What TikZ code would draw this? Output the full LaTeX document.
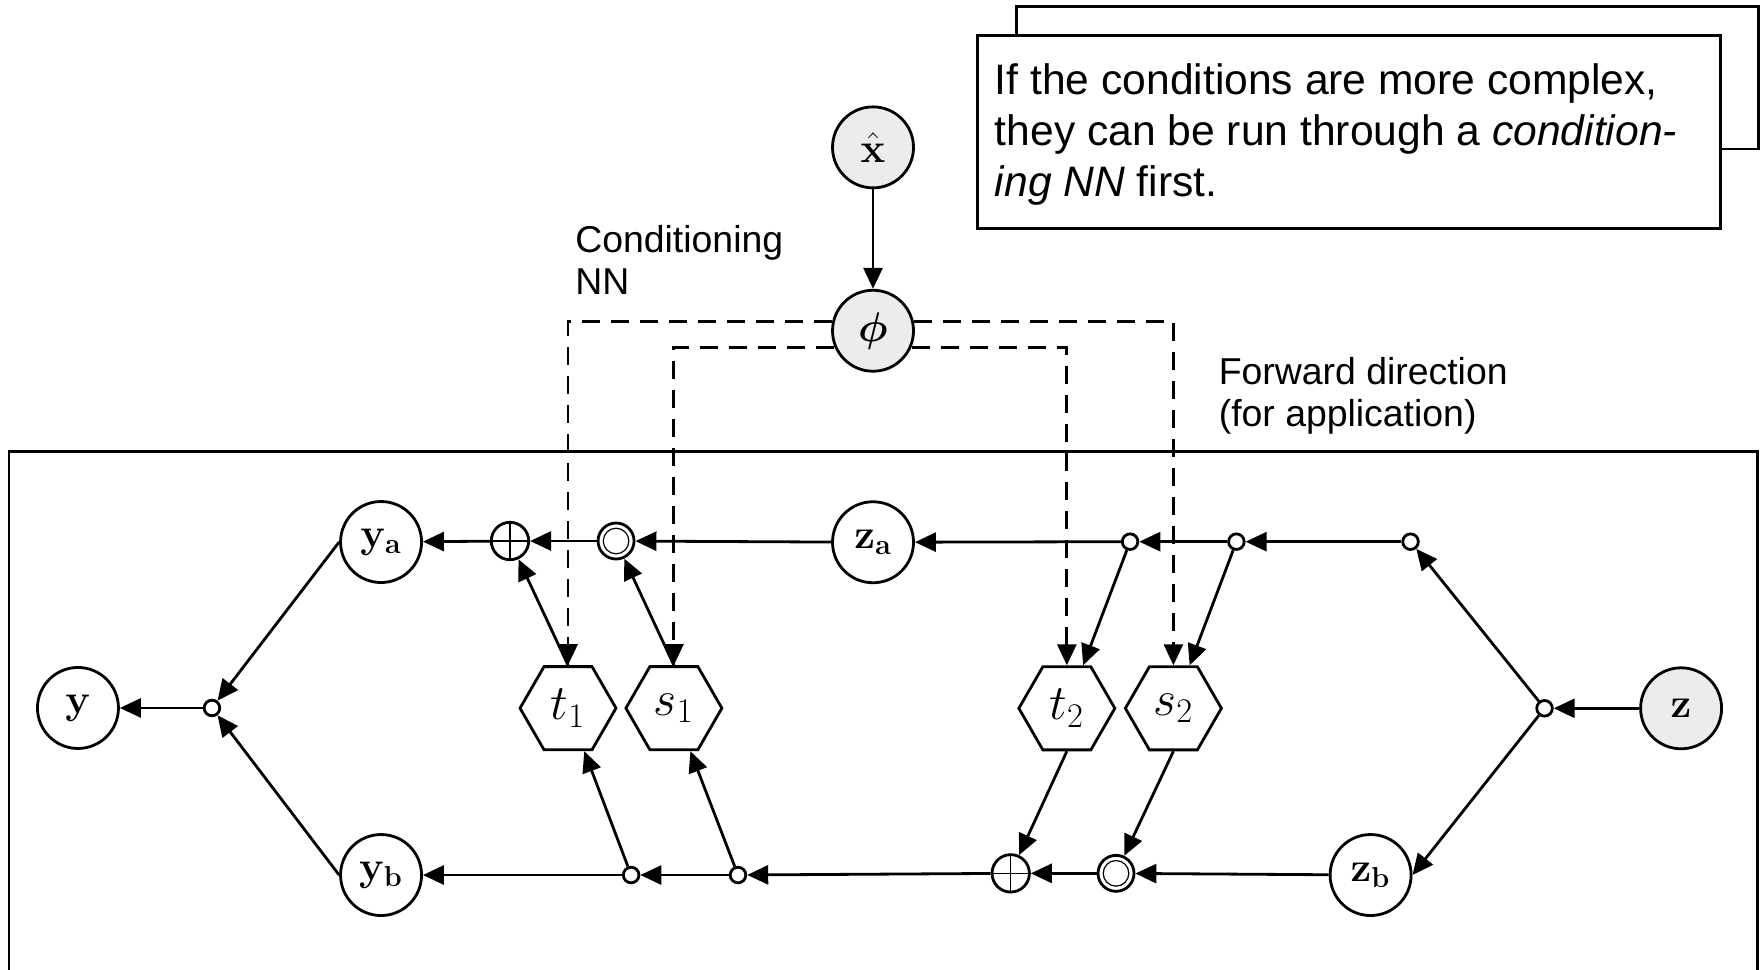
\documentclass[tikz,border=0pt]{standalone}
\usepackage[no-math]{fontspec}
\usepackage{bm}
\newfontfamily\arialfont{Liberation Sans}
\usetikzlibrary{arrows.meta,shapes.geometric}
\tikzset{
  ln/.style={line width=1.4pt},
  arr/.style={ln, -{Triangle[length=10.5pt,width=9.5pt]}},
  condarr/.style={ln, dash pattern=on 9pt off 5.5pt, -{Triangle[length=10.5pt,width=9.5pt]}},
  var/.style={circle, draw, fill=white, line width=1.4pt, minimum size=40.5pt, inner sep=0pt, font=\fontsize{20.5}{24}\selectfont},
  obs/.style={var, fill=gray!15},
  fn/.style={regular polygon, regular polygon sides=6, draw, fill=white, line width=1.4pt, minimum size=48pt, inner sep=0pt, font=\fontsize{23.5}{27}\selectfont},
  jn/.style={circle, draw, fill=white, line width=1.4pt, minimum size=7.8pt, inner sep=0pt},
  plusop/.style={circle, draw, fill=white, line width=1.4pt, minimum size=18.7pt, inner sep=0pt,
    path picture={\draw[line width=0.7pt] (path picture bounding box.north) -- (path picture bounding box.south)
      (path picture bounding box.west) -- (path picture bounding box.east);}},
  dotop/.style={circle, draw, fill=white, line width=1.4pt, minimum size=18pt, inner sep=0pt,
    path picture={\draw[line width=0.6pt] (path picture bounding box.center) circle (6.4pt);
      \fill (path picture bounding box.center) circle (1.5pt);}},
  lbl/.style={inner sep=0pt, align=left, font=\arialfont\fontsize{18.7}{21}\selectfont},
  notetext/.style={inner sep=0pt, align=left, font=\arialfont\fontsize{21.3}{25.5}\selectfont},
}
\begin{document}
\begin{tikzpicture}[x=0.5625pt,y=-0.5625pt]
\useasboundingbox (0,0) rectangle (1568,862);
\clip (0,0) rectangle (1568,862);
% boxes
\draw[ln] (8,401) rectangle (1562,920);
\draw[ln, fill=white] (903.3,6) rectangle (1563,132.4);
\draw[ln, fill=white] (869,31.7) rectangle (1529.2,203);
% texts (anchored at the baseline of their last line)
\node[notetext, anchor=base west] (note) at (884,174.8) {If the conditions are more complex,\\they can be run through a \textit{condition-}\\\textit{ing NN} first.};
\node[lbl, anchor=base west] (condlbl) at (511,262) {Conditioning\\NN};
\node[lbl, anchor=base west] (fwdlbl) at (1083,379.5) {Forward direction\\(for application)};
% nodes
\node[obs] (xh) at (776,131) {$\hat{\mathbf{x}}$};
\node[obs] (phi) at (776,294) {$\bm{\phi}$};
\node[var] (y) at (69.3,629.3) {$\mathbf{y}$};
\node[jn] (jy) at (188.4,629.3) {};
\node[var] (ya) at (338.7,481.8) {$\mathbf{y_a}$};
\node[var] (yb) at (338.7,777.8) {$\mathbf{y_b}$};
\node[plusop] (p1) at (453.3,480.9) {};
\node[dotop] (o1) at (547.6,480.9) {};
\node[fn] (t1) at (504.9,629.5) {$t_1$};
\node[fn] (s1) at (599,629.5) {$s_1$};
\node[jn] (jb1) at (561,777.8) {};
\node[jn] (jb2) at (656,777.8) {};
\node[var] (za) at (776,482) {$\mathbf{z_a}$};
\node[jn] (jt1) at (1004.5,481.5) {};
\node[jn] (jt2) at (1099,481.5) {};
\node[jn] (jt3) at (1253.8,481.5) {};
\node[fn] (t2) at (948.3,629.6) {$t_2$};
\node[fn] (s2) at (1043,629.6) {$s_2$};
\node[jn] (jz) at (1372.9,629.6) {};
\node[obs] (z) at (1494.3,629.6) {$\mathbf{z}$};
\node[plusop] (p2) at (898.4,776.3) {};
\node[dotop] (o2) at (992,776.3) {};
\node[var] (zb) at (1218.3,777.8) {$\mathbf{z_b}$};
% conditioning (dashed)
\draw[condarr] (phi.167) -| (t1.north);
\draw[condarr] (phi.203) -| (s1.north);
\draw[condarr] (phi.-23) -| (t2.north);
\draw[condarr] (phi.13) -| (s2.north);
% solid connectors
\draw[arr] (xh) -- (phi);
\draw[arr] (jy) -- (y);
\draw[arr] (ya.west) -- (jy);
\draw[arr] (yb.west) -- (jy);
\draw[arr] (p1) -- (ya);
\draw[arr] (o1) -- (p1);
\draw[arr] (za) -- (o1);
\draw[arr] (t1.north) -- (p1);
\draw[arr] (s1.north) -- (o1);
\draw[arr] (jb1) -- (t1);
\draw[arr] (jb2) -- (s1);
\draw[arr] (jb1) -- (yb);
\draw[arr] (jb2) -- (jb1);
\draw[arr] (p2) -- (jb2);
\draw[arr] (o2) -- (p2);
\draw[arr] (zb) -- (o2);
\draw[arr] (t2.south) -- (p2);
\draw[arr] (s2.south) -- (o2);
\draw[arr] (jt1) -- (za);
\draw[arr] (jt2) -- (jt1);
\draw[arr] (jt3) -- (jt2);
\draw[arr] (jt1) -- (t2);
\draw[arr] (jt2) -- (s2);
\draw[arr] (jz) -- (jt3);
\draw[arr] (jz) -- (zb.east);
\draw[arr] (z) -- (jz);
\end{tikzpicture}
\end{document}
